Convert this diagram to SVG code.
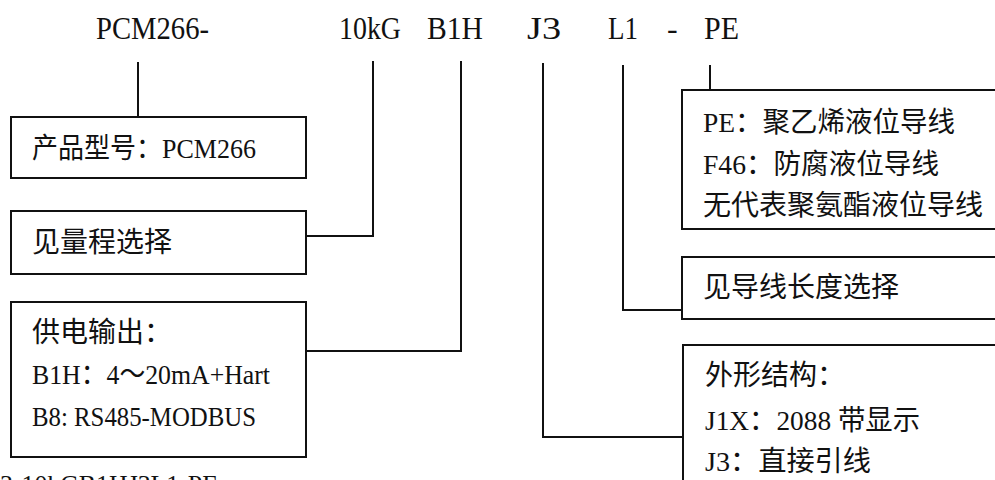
<svg xmlns="http://www.w3.org/2000/svg" width="995" height="480" viewBox="0 0 995 480">
<style>
  text { font-family: "Liberation Serif", "Noto Sans CJK SC", serif; fill: #111; }
  .top { font-size: 32px; }
  .lbl { font-size: 28px; }
  .box { fill: #fff; stroke: #111; stroke-width: 2; }
  .conn { fill: none; stroke: #111; stroke-width: 2; }
</style>
<rect x="0" y="0" width="995" height="480" fill="#fff"/>
<g id="header">
  <text class="top" x="96" y="39" textLength="113" lengthAdjust="spacingAndGlyphs">PCM266-</text>
  <text class="top" x="339" y="39" textLength="62" lengthAdjust="spacingAndGlyphs">10kG</text>
  <text class="top" x="427" y="39" textLength="56" lengthAdjust="spacingAndGlyphs">B1H</text>
  <text class="top" x="527" y="39" textLength="34" lengthAdjust="spacingAndGlyphs">J3</text>
  <text class="top" x="608" y="39" textLength="30" lengthAdjust="spacingAndGlyphs">L1</text>
  <text class="top" x="667" y="39">-</text>
  <text class="top" x="704" y="39" textLength="35" lengthAdjust="spacingAndGlyphs">PE</text>
</g>
<g id="connectors">
  <path class="conn" d="M138,62 V117"/>
  <path class="conn" d="M373,61 V236 H306"/>
  <path class="conn" d="M461,61 V351 H306"/>
  <path class="conn" d="M543,63 V437 H683"/>
  <path class="conn" d="M623,65 V310 H682"/>
  <path class="conn" d="M710,65 V90"/>
</g>
<g id="node-model">
  <rect class="box" x="11" y="117" width="295" height="61"/>
  <text class="lbl" x="32" y="158" textLength="224" lengthAdjust="spacingAndGlyphs">产品型号：PCM266</text>
</g>
<g id="node-range">
  <rect class="box" x="11" y="211" width="295" height="63"/>
  <text class="lbl" x="32" y="252">见量程选择</text>
</g>
<g id="node-output">
  <rect class="box" x="11" y="302" width="295" height="155"/>
  <text class="lbl" x="32" y="342">供电输出：</text>
  <text class="lbl" x="32" y="384" textLength="238" lengthAdjust="spacingAndGlyphs">B1H：4～20mA+Hart</text>
  <text class="lbl" x="32" y="426" textLength="224" lengthAdjust="spacingAndGlyphs">B8: RS485-MODBUS</text>
</g>
<g id="node-wire">
  <rect class="box" x="682" y="90" width="330" height="139"/>
  <text class="lbl" x="703" y="132" textLength="252" lengthAdjust="spacingAndGlyphs">PE：聚乙烯液位导线</text>
  <text class="lbl" x="703" y="174" textLength="236" lengthAdjust="spacingAndGlyphs">F46：防腐液位导线</text>
  <text class="lbl" x="703" y="215">无代表聚氨酯液位导线</text>
</g>
<g id="node-length">
  <rect class="box" x="682" y="257" width="330" height="62"/>
  <text class="lbl" x="703" y="297">见导线长度选择</text>
</g>
<g id="node-shape">
  <rect class="box" x="683" y="345" width="330" height="160"/>
  <text class="lbl" x="705" y="385">外形结构：</text>
  <text class="lbl" x="705" y="430" textLength="215" lengthAdjust="spacingAndGlyphs">J1X：2088 带显示</text>
  <text class="lbl" x="705" y="471" textLength="166" lengthAdjust="spacingAndGlyphs">J3：直接引线</text>
</g>
<g id="example">
  <text x="0" y="493" font-size="26" textLength="218" lengthAdjust="spacingAndGlyphs">3-10kGB1HJ3L1-PE</text>
</g>
</svg>
